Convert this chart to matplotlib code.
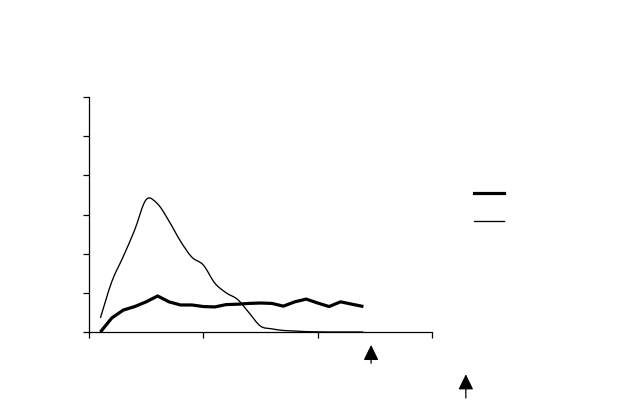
import matplotlib
matplotlib.use("Agg")
import matplotlib.pyplot as plt
from matplotlib.path import Path
from matplotlib.patches import PathPatch
from matplotlib.lines import Line2D
import numpy as np

# Data
x_values = [0.1, 0.2, 0.3, 0.4, 0.5, 0.6, 0.7, 0.8, 0.9, 1.0, 1.1, 1.2,
            1.3, 1.4, 1.5, 1.6, 1.7, 1.8, 1.9, 2.0, 2.1, 2.2, 2.3, 2.4]
series_thick = [0.0, 0.36, 0.56, 0.65, 0.77, 0.92, 0.77, 0.69, 0.69, 0.65, 0.64, 0.70,
                0.71, 0.73, 0.74, 0.73, 0.66, 0.77, 0.84, 0.74, 0.65, 0.77, 0.71, 0.65]
series_thin = [0.36, 1.29, 1.93, 2.61, 3.38, 3.27, 2.83, 2.32, 1.91, 1.71, 1.25, 1.00,
               0.83, 0.49, 0.15, 0.08, 0.04, 0.025, 0.01, 0.005, 0.0, 0.0, 0.0, 0.0]
x_ticks = [0, 1, 2, 3]
y_ticks = [0, 1, 2, 3, 4, 5, 6]
arrow_x = [2.467, 3.296]

W, H = 622, 417
fig = plt.figure(figsize=(W / 100, H / 100), dpi=100)
ax = fig.add_axes([89 / W, 1 - 332 / H, (432 - 89) / W, (332 - 97) / H])
ax.set_xlim(0, 3)
ax.set_ylim(0, 6)

# thick series (straight segments)
ax.plot(x_values, series_thick, color="black", lw=2.3, solid_joinstyle="round",
        solid_capstyle="butt", clip_on=False)

# thin series, smoothed (Catmull-Rom -> Bezier)
pts = np.column_stack([x_values, series_thin])
verts = [tuple(pts[0])]
codes = [Path.MOVETO]
n = len(pts)
for i in range(n - 1):
    p0 = pts[i - 1] if i > 0 else pts[i]
    p1 = pts[i]
    p2 = pts[i + 1]
    p3 = pts[i + 2] if i + 2 < n else pts[i + 1]
    c1 = p1 + (p2 - p0) / 6.0
    c2 = p2 - (p3 - p1) / 6.0
    verts += [tuple(c1), tuple(c2), tuple(p2)]
    codes += [Path.CURVE4] * 3
ax.add_patch(PathPatch(Path(verts, codes), fill=False, edgecolor="black",
                       lw=0.95, transform=ax.transData, clip_on=False))

for s in ["top", "right"]:
    ax.spines[s].set_visible(False)
for s in ["left", "bottom"]:
    ax.spines[s].set_linewidth(0.9)
    ax.spines[s].set_color("black")
ax.set_xticks(x_ticks)
ax.set_yticks(y_ticks)
ax.set_xticklabels([])
ax.set_yticklabels([])
ax.tick_params(direction="out", length=4.3, width=0.9, color="black")

# legend (no text)
handles = [Line2D([], [], color="black", lw=2.3), Line2D([], [], color="black", lw=0.95)]
fig.legend(handles, [" ", " "], loc="upper left",
           bbox_to_anchor=(474 / W, 1 - 187 / H), bbox_transform=fig.transFigure,
           frameon=False, fontsize=10, handlelength=2.16, handletextpad=0.0,
           borderpad=0.0, borderaxespad=0.0, labelspacing=1.0)

# arrows below the axis
arrow_tips = [-0.055, -0.18]
arrow_tails = [-0.133, -0.281]
for xa, yt, yb in zip(arrow_x, arrow_tips, arrow_tails):
    ax.annotate("", xy=(xa, yt), xytext=(xa, yb),
                xycoords=("data", "axes fraction"), textcoords=("data", "axes fraction"),
                arrowprops=dict(arrowstyle="-|>,head_length=9.4,head_width=4.6",
                                mutation_scale=1, color="black", lw=0.9,
                                shrinkA=0, shrinkB=0), annotation_clip=False)

fig.savefig("out.png", dpi=100, facecolor="white")
